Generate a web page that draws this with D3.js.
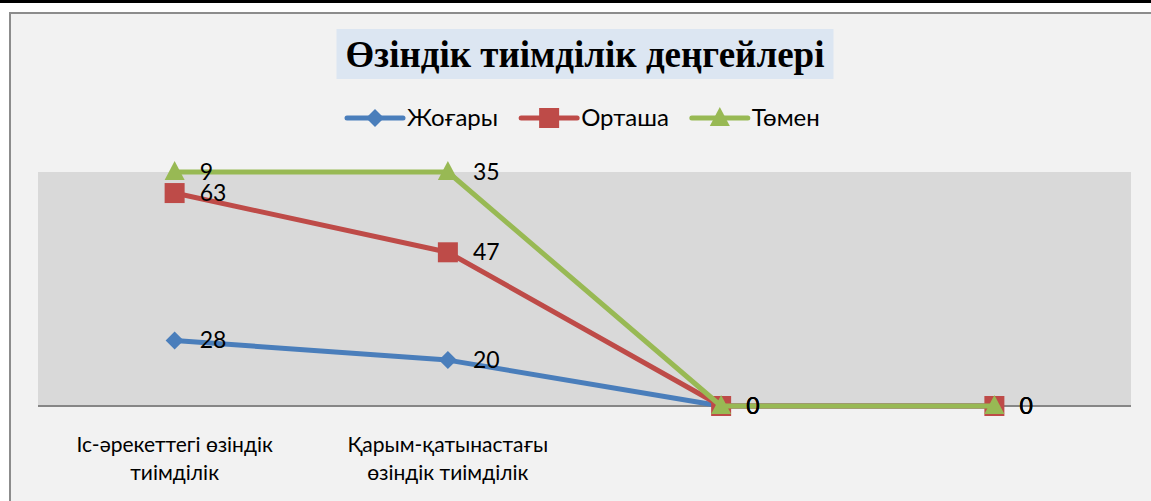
<!DOCTYPE html>
<html>
<head>
<meta charset="utf-8">
<script src="https://cdn.jsdelivr.net/npm/d3@7"></script>
<style>
  body { margin: 0; background: #fff; }
  svg { display: block; }
  .lbl { font-family: Lato, "Open Sans", sans-serif; fill: #000; }
</style>
</head>
<body>
<div id="chart"></div>
<script>
const categories = ['Іс-әрекеттегі өзіндік\nтиімділік', 'Қарым-қатынастағы\nөзіндік тиімділік', '', ''];
const seriesNames = ['Жоғары', 'Орташа', 'Төмен'];
const seriesColors = ['#4a7ebb', '#be4b48', '#98b954'];
const zhogary = [28, 20, 0, 0];
const ortasha = [63, 47, 0, 0];
const tomen = [9, 35, 0, 0];
const title = 'Өзіндік тиімділік деңгейлері';

const width = 1151, height = 501;
const plot = { left: 38, right: 1131, top: 172, bottom: 406 };

const svg = d3.select('#chart').append('svg')
  .attr('width', width)
  .attr('height', height);

// page decorations: black rule at top, chart frame
svg.append('rect').attr('x', 0).attr('y', 0).attr('width', width).attr('height', 3).attr('fill', '#000');
svg.append('rect')
  .attr('x', 10).attr('y', 13)
  .attr('width', width + 10).attr('height', height)
  .attr('fill', '#f2f2f2')
  .attr('stroke', '#8c8c8c')
  .attr('stroke-width', 2);

// plot area
svg.append('rect')
  .attr('x', plot.left).attr('y', plot.top)
  .attr('width', plot.right - plot.left).attr('height', plot.bottom - plot.top)
  .attr('fill', '#d9d9d9');

const x = d3.scalePoint()
  .domain(d3.range(categories.length))
  .range([plot.left, plot.right])
  .padding(0.5);

const y = d3.scaleLinear().domain([0, 1]).range([plot.bottom, plot.top]);

// 100% stacked values
const raw = [zhogary, ortasha, tomen];
const totals = categories.map((c, i) => d3.sum(raw, s => s[i]));
const stacked = raw.map((s, k) => s.map((v, i) => {
  const cum = d3.sum(raw.slice(0, k + 1), r => r[i]);
  return { i, v, p: totals[i] ? cum / totals[i] : 0 };
}));

// axis
const axis = svg.append('g')
  .attr('transform', `translate(0,${plot.bottom})`)
  .call(d3.axisBottom(x).tickSize(0).tickFormat(''));
axis.select('.domain')
  .attr('d', `M${plot.left},0H${plot.right}`)
  .attr('stroke', '#868686')
  .attr('stroke-width', 2);

// category labels
categories.forEach((c, i) => {
  const t = svg.append('text')
    .attr('class', 'lbl')
    .attr('x', x(i))
    .attr('y', 452)
    .attr('text-anchor', 'middle')
    .style('font-size', '21px');
  c.split('\n').forEach((line, j) => {
    t.append('tspan').attr('x', x(i)).attr('dy', j ? 28 : 0).text(line);
  });
});

function marker(g, k, color) {
  if (k === 0) {
    g.append('path').attr('d', 'M0,-9L9,0L0,9L-9,0Z').attr('fill', color);
  } else if (k === 1) {
    g.append('rect').attr('x', -10).attr('y', -10).attr('width', 20).attr('height', 20).attr('fill', color);
  } else {
    g.append('path').attr('d', 'M0,-11L10,8L-10,8Z').attr('fill', color);
  }
}

const line = d3.line().x(d => x(d.i)).y(d => y(d.p));

stacked.forEach((s, k) => {
  svg.append('path')
    .datum(s)
    .attr('d', line)
    .attr('fill', 'none')
    .attr('stroke', seriesColors[k])
    .attr('stroke-width', 5)
    .attr('stroke-linejoin', 'round');
  s.forEach(d => {
    const g = svg.append('g').attr('transform', `translate(${x(d.i)},${y(d.p)})`);
    marker(g, k, seriesColors[k]);
  });
});

// data labels
stacked.forEach((s, k) => {
  svg.selectAll(null)
    .data(s)
    .enter()
    .append('text')
    .attr('class', 'lbl')
    .attr('x', d => x(d.i) + 25)
    .attr('y', d => y(d.p) + 8)
    .style('font-size', '23px')
    .text(d => d.v);
});

// title
const titleBox = svg.append('rect').attr('fill', '#dce6f2');
const titleText = svg.append('text')
  .attr('x', 585)
  .attr('y', 67)
  .attr('text-anchor', 'middle')
  .style('font-family', '"Liberation Serif", "Times New Roman", serif')
  .style('font-weight', 'bold')
  .style('font-size', '37px')
  .text(title);
const tb = titleText.node().getBBox();
titleBox
  .attr('x', tb.x - 9).attr('y', 29)
  .attr('width', tb.width + 18).attr('height', 50);

// legend
const legend = svg.append('g');
let lx = 347;
seriesNames.forEach((name, k) => {
  const g = legend.append('g').attr('transform', `translate(${lx},118)`);
  g.append('line').attr('x1', 0).attr('x2', 56).attr('stroke', seriesColors[k])
    .attr('stroke-width', 5).attr('stroke-linecap', 'round');
  const mg = g.append('g').attr('transform', 'translate(28,0)');
  marker(mg, k, seriesColors[k]);
  const t = g.append('text')
    .attr('class', 'lbl')
    .attr('x', 60)
    .attr('y', 8)
    .style('font-size', '24px')
    .text(name);
  lx += 60 + t.node().getComputedTextLength() + 23;
});
</script>
</body>
</html>
